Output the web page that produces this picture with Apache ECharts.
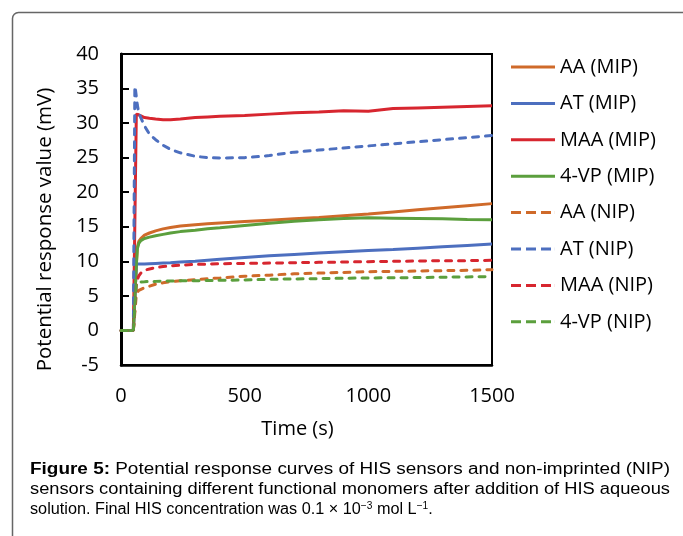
<!DOCTYPE html>
<html>
<head>
<meta charset="utf-8">
<script src="https://cdn.jsdelivr.net/npm/echarts@6/dist/echarts.min.js"></script>
<style>
html,body{margin:0;padding:0;background:#fff;}
#main{width:683px;height:536px;}
</style>
</head>
<body>
<div id="main"></div>
<script>
// ---- data ----
var times = [0, 50, 56, 58, 62, 66, 72, 80, 95, 115, 140, 170, 200, 240, 300, 350, 400, 500, 600, 700, 800, 900, 1000, 1100, 1200, 1300, 1400, 1500];
var seriesNames = ['AA (MIP)', 'AT (MIP)', 'MAA (MIP)', '4-VP (MIP)', 'AA (NIP)', 'AT (NIP)', 'MAA (NIP)', '4-VP (NIP)'];
var aaMIP  = [0, 0, 0, 0, 9.5, 12.0, 12.9, 13.3, 13.8, 14.1, 14.4, 14.7, 14.9, 15.1, 15.3, 15.45, 15.55, 15.75, 15.95, 16.15, 16.35, 16.6, 16.85, 17.15, 17.45, 17.75, 18.05, 18.35];
var atMIP  = [0, 0, 0, 0, 9.6, 9.6, 9.6, 9.6, 9.6, 9.65, 9.7, 9.75, 9.8, 9.9, 10.0, 10.15, 10.3, 10.55, 10.8, 11.0, 11.2, 11.4, 11.55, 11.7, 11.9, 12.1, 12.3, 12.5];
var maaMIP = [0, 0, 0, 0, 31.3, 31.4, 31.2, 31.0, 30.8, 30.7, 30.6, 30.5, 30.5, 30.6, 30.8, 30.9, 31.0, 31.1, 31.3, 31.5, 31.6, 31.8, 31.7, 32.1, 32.2, 32.3, 32.4, 32.5];
var vpMIP  = [0, 0, 0, 0, 9.5, 11.8, 12.6, 13.0, 13.3, 13.5, 13.7, 13.9, 14.1, 14.3, 14.5, 14.7, 14.85, 15.2, 15.5, 15.8, 16.0, 16.2, 16.3, 16.25, 16.2, 16.15, 16.05, 16.0];
var aaNIP  = [0, 0, 0, 0, 5.2, 5.5, 5.8, 6.0, 6.2, 6.4, 6.7, 6.9, 7.05, 7.2, 7.35, 7.5, 7.6, 7.85, 8.0, 8.2, 8.3, 8.4, 8.5, 8.55, 8.6, 8.65, 8.7, 8.8];
var atNIP  = [0, 0, 35.3, 35.0, 33.8, 32.6, 31.5, 30.8, 29.6, 28.4, 27.6, 26.8, 26.2, 25.7, 25.2, 25.0, 24.95, 25.0, 25.3, 25.8, 26.1, 26.4, 26.7, 27.0, 27.3, 27.6, 27.9, 28.2];
var maaNIP = [0, 0, 0, 0, 6.5, 7.3, 7.9, 8.3, 8.7, 8.9, 9.1, 9.25, 9.35, 9.45, 9.55, 9.6, 9.65, 9.7, 9.75, 9.8, 9.85, 9.9, 9.95, 10.0, 10.05, 10.1, 10.1, 10.15];
var vpNIP  = [0, 0, 0, 0, 6.9, 7.0, 7.0, 7.05, 7.05, 7.1, 7.1, 7.15, 7.15, 7.2, 7.2, 7.22, 7.25, 7.3, 7.4, 7.45, 7.5, 7.55, 7.6, 7.62, 7.65, 7.7, 7.75, 7.8];
var xTicks = [0, 500, 1000, 1500];
var yTicks = [-5, 0, 5, 10, 15, 20, 25, 30, 35, 40];
var captionLines = [
  'Potential response curves of HIS sensors and non-imprinted (NIP)',
  'sensors containing different functional monomers after addition of HIS aqueous',
  'solution. Final HIS concentration was 0.1 × 10{sup|−3} mol L{sup|−1}.'
];
var captionLead = 'Figure 5:';

var allValues = [aaMIP, atMIP, maaMIP, vpMIP, aaNIP, atNIP, maaNIP, vpNIP];
var colors = ['#cf6a2a', '#4d6fbf', '#d7262f', '#5b9f3d', '#cf6a2a', '#4d6fbf', '#d7262f', '#5b9f3d'];
var dashed = [false, false, false, false, true, true, true, true];

function pairs(vals) {
  return times.map(function (t, i) { return [t, vals[i]]; });
}

var series = seriesNames.map(function (name, i) {
  return {
    name: name,
    type: 'line',
    data: pairs(allValues[i]),
    symbol: 'none',
    animation: false,
    lineStyle: {
      color: colors[i],
      width: 3,
      type: dashed[i] ? [6, 7] : 'solid',
      cap: dashed[i] ? 'round' : 'butt'
    },
    itemStyle: { color: colors[i] }
  };
});

var solidIcon = 'path://M0,0H44V3H0Z';
var dashIcon = 'path://M0,0H10V3H0Z M15,0H25V3H15Z M30,0H40V3H30Z M43.9,0H44V3H43.9Z';
var legendData = seriesNames.map(function (n, i) {
  return { name: n, icon: dashed[i] ? dashIcon : solidIcon };
});

// caption layout (widths measured so the first two lines fill the column)
var capFont = '"Liberation Sans", Arial, sans-serif';
var mctx = document.createElement('canvas').getContext('2d');
function measure(str, bold) {
  mctx.font = (bold ? 'bold ' : '') + '16px ' + capFont;
  return mctx.measureText(str).width;
}
var lineTargets = [640, 640, null];
var captionGraphics = [];
var capY = [462, 481.5, 501];
captionLines.forEach(function (ln, i) {
  var txt = (i === 0 ? '{b|' + captionLead + '} ' : '') + ln;
  var natural;
  if (i === 0) natural = measure(captionLead, true) + measure(' ' + ln, false);
  else natural = measure(ln.replace(/\{sup\|([^}]*)\}/g, '$1'), false);
  var sx = lineTargets[i] ? lineTargets[i] / natural : 1.015;
  captionGraphics.push({
    type: 'text',
    x: 30, y: capY[i],
    scaleX: sx,
    silent: true,
    style: {
      text: txt,
      fontFamily: capFont,
      fontSize: 16,
      fill: '#000',
      rich: {
        b: { fontWeight: 'bold', fontFamily: capFont, fontSize: 16 },
        sup: { fontSize: 10, verticalAlign: 'top', padding: [0, 0, 8, 0], fontFamily: capFont }
      }
    }
  });
});

var chart = echarts.init(document.getElementById('main'), null, { renderer: 'canvas' });
var font = '"Open Sans", sans-serif';
chart.setOption({
  animation: false,
  backgroundColor: '#fff',
  grid: {
    left: 121, top: 54, right: 191, bottom: 171,
    show: true, borderColor: '#000', borderWidth: 2, backgroundColor: 'transparent'
  },
  legend: {
    orient: 'vertical',
    left: 511, top: 56,
    padding: 0,
    itemWidth: 44, itemHeight: 3,
    itemGap: 14.4,
    itemStyle: { borderWidth: 0 },
    data: legendData,
    textStyle: { fontFamily: font, fontSize: 20, color: '#000', lineHeight: 22 }
  },
  xAxis: {
    type: 'value',
    min: xTicks[0], max: xTicks[xTicks.length - 1], interval: 500,
    name: 'Time (s)',
    nameLocation: 'middle',
    nameGap: 54,
    nameTextStyle: { fontFamily: font, fontSize: 20, color: '#000', padding: [0, 18, 0, 0] },
    axisLine: { show: true, onZero: false, lineStyle: { color: '#000', width: 2.5 } },
    axisTick: { show: false },
    splitLine: { show: false },
    axisLabel: { fontFamily: font, fontSize: 20, color: '#000', margin: 21, formatter: function (v) { return String(v); } }
  },
  yAxis: {
    type: 'value',
    min: yTicks[0], max: yTicks[yTicks.length - 1], interval: 5,
    name: 'Potential response value (mV)',
    nameLocation: 'middle',
    nameGap: 65,
    nameTextStyle: { fontFamily: font, fontSize: 20.5, color: '#000', padding: [0, 40, 0, 0] },
    axisLine: { show: true, onZero: false, lineStyle: { color: '#000', width: 3 } },
    axisTick: { show: true, inside: true, length: 8, lineStyle: { color: '#000', width: 2 } },
    splitLine: { show: false },
    axisLabel: { fontFamily: font, fontSize: 20, color: '#000', margin: 22 }
  },
  graphic: [
    {
      type: 'rect',
      silent: true,
      shape: { x: 12.5, y: 12.5, width: 720, height: 600, r: 6 },
      style: { fill: 'none', stroke: '#666', lineWidth: 1.5 }
    }
  ].concat(captionGraphics),
  series: series
});
</script>
</body>
</html>
